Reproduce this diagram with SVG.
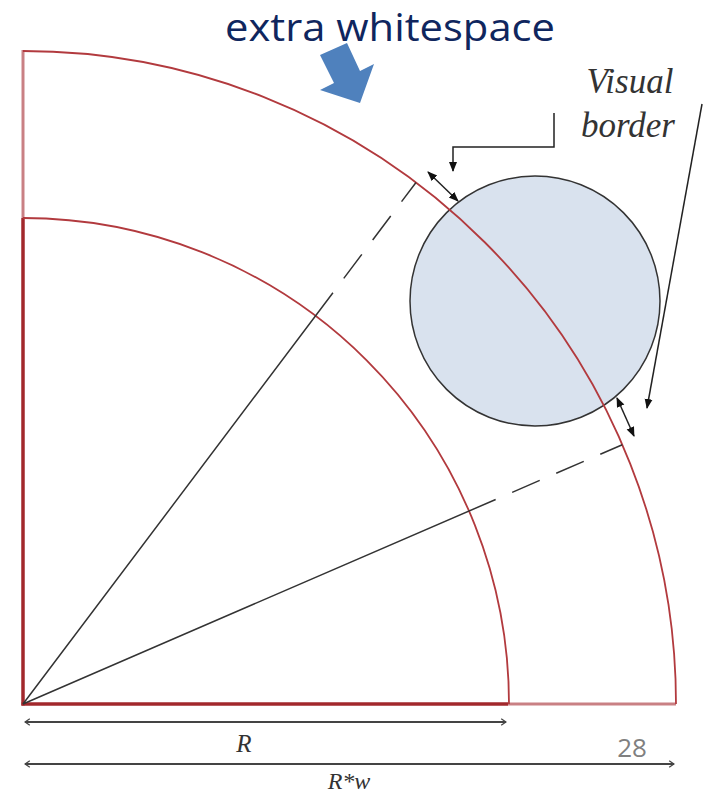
<svg xmlns="http://www.w3.org/2000/svg" width="706" height="795" viewBox="0 0 706 795">
<style>
.bg{fill:#ffffff}
.arc{fill:none;stroke:#b23a3e;stroke-width:1.8}
.dark{stroke:#a2282c;stroke-width:3.5;fill:none}
.light{stroke:#c98084;stroke-width:3;fill:none}
.ray{stroke:#333;stroke-width:1.5;fill:none;stroke-dasharray:515 18 30 18 30 18 30}
.ptr{stroke:#222;stroke-width:1.5;fill:none}
.dim{stroke:#444;stroke-width:1.8;fill:none}
.lbl{font-family:"Liberation Serif",serif;font-style:italic;fill:#333}
</style>
<defs>
<marker id="ah" viewBox="0 0 10 10" refX="9" refY="5" markerWidth="10" markerHeight="10" markerUnits="userSpaceOnUse" orient="auto-start-reverse">
<path d="M0,1 L10,5 L0,9 Z" fill="#111"/>
</marker>
<marker id="ch" viewBox="0 0 10 10" refX="9" refY="5" markerWidth="8" markerHeight="8" markerUnits="userSpaceOnUse" orient="auto-start-reverse">
<path d="M3,1 L9,5 L3,9" fill="none" stroke="#444" stroke-width="1.6"/>
</marker>
</defs>
<rect class="bg" x="0" y="0" width="706" height="795"/>
<g id="circle">
<circle cx="535" cy="301" r="125" fill="#d9e2ee" stroke="#333" stroke-width="1.5"/>
</g>
<g id="sector">
<line class="light" x1="23" y1="50" x2="23" y2="218"/>
<line class="light" x1="508" y1="704" x2="676" y2="704"/>
<line class="dark" x1="23" y1="218" x2="23" y2="705.5"/>
<line class="dark" x1="21.5" y1="704" x2="508" y2="704"/>
<path class="arc" d="M23,51 A653,653 0 0 1 676,704"/>
<path class="arc" d="M23,218 A486,486 0 0 1 509,704"/>
</g>
<g id="connectors">
<line class="ray" x1="23" y1="704" x2="416" y2="182.5"/>
<line class="ray" x1="23" y1="704" x2="622.3" y2="444.7"/>
<polyline class="ptr" points="554,113 554,147 453,147 453,171" marker-end="url(#ah)"/>
<line class="ptr" x1="702" y1="104" x2="647" y2="408" marker-end="url(#ah)"/>
<line class="ptr" x1="428" y1="172" x2="458" y2="201" marker-start="url(#ah)" marker-end="url(#ah)"/>
<line class="ptr" x1="617" y1="398" x2="634" y2="436" marker-start="url(#ah)" marker-end="url(#ah)"/>
<line class="dim" x1="25" y1="722" x2="506" y2="722" marker-start="url(#ch)" marker-end="url(#ch)"/>
<line class="dim" x1="25" y1="764" x2="674" y2="764" marker-start="url(#ch)" marker-end="url(#ch)"/>
</g>
<g id="callout">
<polygon points="320,55 347,43 360,71 374,64 360,103 320,90 334,83" fill="#4f81bd"/>
<text x="390" y="41" font-family="'Open Sans',sans-serif" font-size="38" fill="#0f265e" text-anchor="middle" textLength="330" lengthAdjust="spacingAndGlyphs">extra whitespace</text>
</g>
<g id="visual-border-label">
<text class="lbl" x="630" y="93" font-size="35" text-anchor="middle">Visual</text>
<text class="lbl" x="628" y="137" font-size="35" text-anchor="middle">border</text>
</g>
<g id="labels">
<text class="lbl" x="244" y="752" font-size="25" text-anchor="middle">R</text>
<text class="lbl" x="349" y="789" font-size="24" text-anchor="middle">R*w</text>
<text x="632" y="757" font-family="'Open Sans',sans-serif" font-size="26" fill="#808080" text-anchor="middle">28</text>
</g>
</svg>
